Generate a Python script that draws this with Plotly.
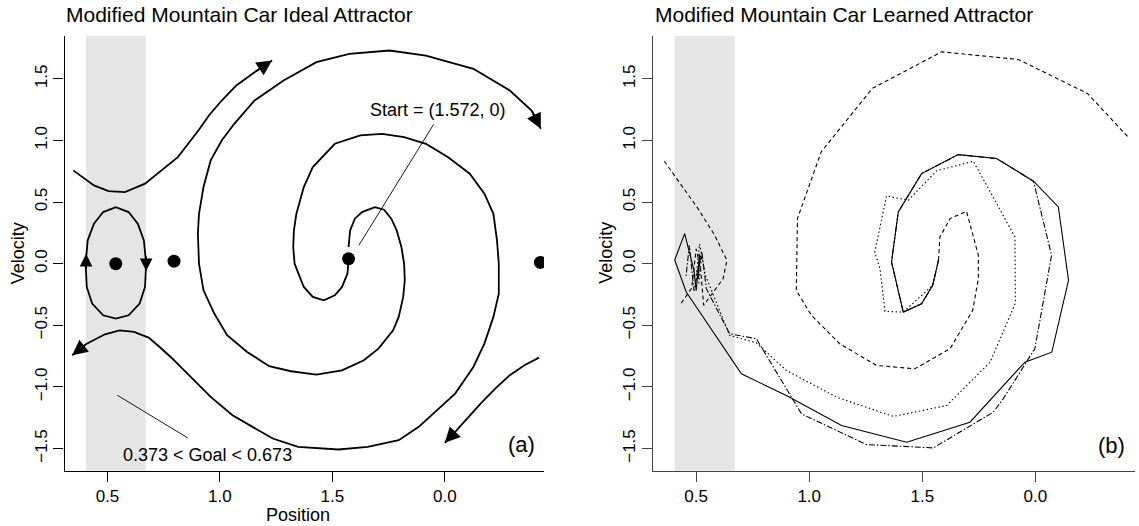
import plotly.graph_objects as go

# ---------------- data (position u, velocity v) ----------------
x_tick_vals = [0.5, 1.0, 1.5, 2.0]
x_tick_text = ["0.5", "1.0", "1.5", "0.0"]
y_tick_vals = [-1.5, -1.0, -0.5, 0.0, 0.5, 1.0, 1.5]
y_tick_text = ["\u22121.5", "\u22121.0", "\u22120.5", "0.0", "0.5", "1.0", "1.5"]
x_range = [0.309, 2.441]
y_range = [-1.68, 1.85]
goal_band = [0.405, 0.670]

# Panel (a): ideal attractor
orbit_u = [0.403, 0.412, 0.440, 0.481, 0.537, 0.594, 0.635, 0.662, 0.672, 0.667, 0.643,
           0.594, 0.537, 0.481, 0.432, 0.408, 0.403]
orbit_v = [0.0, 0.189, 0.324, 0.419, 0.459, 0.419, 0.324, 0.189, 0.0, -0.189, -0.324,
           -0.419, -0.446, -0.419, -0.324, -0.189, 0.0]

upper_u = [0.348, 0.440, 0.505, 0.578, 0.667, 0.748, 0.813, 0.870, 0.910, 0.951, 1.008,
           1.073, 1.154, 1.232]
upper_v = [0.757, 0.635, 0.589, 0.581, 0.649, 0.770, 0.865, 1.0, 1.095, 1.203, 1.324,
           1.446, 1.554, 1.649]

branch_up_u = [1.572, 1.579, 1.600, 1.632, 1.689, 1.730, 1.762, 1.786, 1.807, 1.819, 1.822,
               1.815, 1.795, 1.770, 1.705, 1.640, 1.543, 1.429, 1.316, 1.219, 1.121, 1.032,
               0.975, 0.927, 0.907, 0.902, 0.907, 0.927, 0.959, 1.008, 1.064, 1.154, 1.283,
               1.429, 1.575, 1.754, 1.916, 2.127, 2.289, 2.386, 2.427]
branch_up_v = [0.135, 0.270, 0.365, 0.419, 0.459, 0.438, 0.365, 0.270, 0.135, 0.0, -0.135,
               -0.270, -0.432, -0.541, -0.689, -0.784, -0.865, -0.900, -0.873, -0.832, -0.716,
               -0.581, -0.405, -0.216, 0.0, 0.243, 0.405, 0.622, 0.838, 1.0, 1.135, 1.324,
               1.486, 1.635, 1.703, 1.730, 1.689, 1.581, 1.405, 1.243, 1.095]

branch_down_u = [1.572, 1.567, 1.543, 1.511, 1.462, 1.413, 1.373, 1.348, 1.332, 1.326, 1.329,
                 1.340, 1.373, 1.413, 1.511, 1.624, 1.721, 1.819, 1.916, 2.013, 2.111, 2.176,
                 2.216, 2.232, 2.240, 2.240, 2.216, 2.176, 2.127, 2.046, 1.965, 1.884, 1.795,
                 1.657, 1.527, 1.348, 1.235, 1.056, 0.959, 0.878, 0.781, 0.732, 0.683, 0.618,
                 0.554, 0.489, 0.408, 0.343]
branch_down_v = [0.014, -0.081, -0.189, -0.257, -0.297, -0.270, -0.189, -0.081, 0.0, 0.135,
                 0.270, 0.405, 0.622, 0.784, 0.973, 1.041, 1.054, 1.027, 0.973, 0.865, 0.730,
                 0.568, 0.405, 0.189, 0.0, -0.243, -0.432, -0.649, -0.838, -1.054, -1.189,
                 -1.324, -1.432, -1.486, -1.508, -1.486, -1.419, -1.230, -1.081, -0.932,
                 -0.757, -0.676, -0.600, -0.554, -0.541, -0.573, -0.649, -0.743]

lower_right_u = [2.419, 2.354, 2.289, 2.224, 2.159, 2.094, 2.046, 2.000]
lower_right_v = [-0.762, -0.824, -0.905, -1.014, -1.135, -1.270, -1.365, -1.454]

fixed_u = [0.537, 0.796, 1.572, 2.425]
fixed_v = [0.0, 0.02, 0.04, 0.01]

# arrow heads: tip (u, v) and a point just behind it on the curve
arrow_tip_u = [1.232, 2.427, 0.343, 2.000]
arrow_tip_v = [1.649, 1.095, -0.743, -1.454]
arrow_tail_u = [1.154, 2.386, 0.408, 2.046]
arrow_tail_v = [1.554, 1.243, -0.649, -1.365]
orbit_arrow_tip_u = [0.405, 0.672]
orbit_arrow_tip_v = [0.08, -0.06]
orbit_arrow_tail_u = [0.405, 0.672]
orbit_arrow_tail_v = [-0.05, 0.07]

start_line_u = [1.618, 1.950]
start_line_v = [0.149, 1.130]
goal_line_u = [0.544, 0.857]
goal_line_v = [-1.068, -1.414]

# Panel (b): learned trajectories
dash_u = [1.572, 1.578, 1.623, 1.696, 1.748, 1.748, 1.723, 1.623, 1.467, 1.298, 1.135, 1.010,
          0.943, 0.948, 1.053, 1.279, 1.586, 1.925, 2.231, 2.417, None,
          0.359, 0.508, 0.582, 0.636, 0.619, 0.567, 0.533, 0.52, 0.50, 0.48, 0.43]
dash_v = [0.03, 0.217, 0.366, 0.425, 0.068, -0.122, -0.379, -0.690, -0.853, -0.826, -0.650,
          -0.420, -0.217, 0.366, 0.907, 1.422, 1.719, 1.657, 1.381, 1.015, None,
          0.831, 0.447, 0.230, 0.027, -0.122, -0.257, -0.338, -0.05, 0.12, -0.2, -0.33]

solid_u = [1.572, 1.546, 1.497, 1.416, 1.364, 1.394, 1.497, 1.659, 1.829, 1.992, 2.102, 2.147,
           2.073, 1.954, 1.711, 1.431, 1.143, 0.899, 0.700, 0.456, 0.405, 0.449, 0.49, 0.50,
           0.515, 0.51]
solid_v = [0.03, -0.176, -0.325, -0.393, 0.014, 0.420, 0.731, 0.885, 0.853, 0.669, 0.460,
           -0.135, -0.718, -0.799, -1.286, -1.449, -1.313, -1.070, -0.894, -0.23, 0.03, 0.244,
           -0.05, -0.22, 0.08, -0.12]

dashdot_u = [1.572, 1.546, 1.497, 1.416, 1.364, 1.394, 1.497, 1.659, 1.829, 1.992, 2.072, 1.998,
             1.858, 1.814, 1.549, 1.253, 0.966, 0.766, 0.648, 0.545, 0.525, 0.49, 0.47, 0.455]
dashdot_v = [0.03, -0.176, -0.325, -0.393, 0.014, 0.420, 0.731, 0.885, 0.853, 0.669, 0.068,
             -0.690, -1.097, -1.205, -1.495, -1.468, -1.219, -0.609, -0.569, -0.203, 0.10,
             -0.22, 0.15, -0.10]

dot_u = [1.572, 1.546, 1.416, 1.335, 1.313, 1.290, 1.342, 1.438, 1.563, 1.726, 1.910, 1.912,
         1.800, 1.608, 1.372, 1.121, 0.899, 0.766, 0.648, 0.54, 0.515, 0.50, 0.525, 0.51]
dot_v = [0.03, -0.176, -0.393, -0.387, -0.041, 0.095, 0.550, 0.514, 0.753, 0.831, 0.217,
         -0.32, -0.80, -1.151, -1.240, -1.083, -0.867, -0.642, -0.582, -0.09, 0.16, -0.10,
         0.06, -0.18]

# ---------------- figure ----------------
W, H = 1139, 526
FONT = "Liberation Sans, Arial, Helvetica, sans-serif"
left_dom = [64.5 / W, 544 / W]
right_dom = [653 / W, 1135 / W]
y_dom = [1 - 470.7 / H, 1 - 35.7 / H]

fig = go.Figure()

curve = dict(color="black", width=1.8)
for uu, vv in [(orbit_u, orbit_v), (upper_u, upper_v), (branch_up_u, branch_up_v),
               (branch_down_u, branch_down_v), (lower_right_u, lower_right_v)]:
    fig.add_trace(go.Scatter(x=uu, y=vv, mode="lines", line=curve, xaxis="x", yaxis="y",
                             showlegend=False, hoverinfo="skip"))
for uu, vv in [(start_line_u, start_line_v), (goal_line_u, goal_line_v)]:
    fig.add_trace(go.Scatter(x=uu, y=vv, mode="lines", line=dict(color="black", width=0.9),
                             xaxis="x", yaxis="y", showlegend=False, hoverinfo="skip"))
fig.add_trace(go.Scatter(x=fixed_u, y=fixed_v, mode="markers",
                         marker=dict(color="black", size=13), xaxis="x", yaxis="y",
                         showlegend=False, hoverinfo="skip"))

thin = 1.1
for uu, vv, dash in [(dash_u, dash_v, "4px,3px"), (solid_u, solid_v, "solid"),
                     (dashdot_u, dashdot_v, "6px,2px,1.5px,2px"), (dot_u, dot_v, "1.5px,2.5px")]:
    fig.add_trace(go.Scatter(x=uu, y=vv, mode="lines",
                             line=dict(color="black", width=thin, dash=dash),
                             xaxis="x2", yaxis="y2", showlegend=False, hoverinfo="skip",
                             connectgaps=False))

# goal band shading
for xr, yr in [("x", "y domain"), ("x2", "y2 domain")]:
    fig.add_shape(type="rect", xref=xr, yref=yr, x0=goal_band[0], x1=goal_band[1], y0=0, y1=1,
                  fillcolor="#e5e5e5", line=dict(width=0), layer="below")

annotations = []
for tu, tv, au, av in zip(arrow_tip_u, arrow_tip_v, arrow_tail_u, arrow_tail_v):
    annotations.append(dict(x=tu, y=tv, ax=au, ay=av, xref="x", yref="y", axref="x",
                            ayref="y", text="", showarrow=True, arrowhead=2, arrowsize=1.7,
                            arrowwidth=1.8, arrowcolor="black", standoff=0, startstandoff=0))
for tu, tv, au, av in zip(orbit_arrow_tip_u, orbit_arrow_tip_v, orbit_arrow_tail_u,
                          orbit_arrow_tail_v):
    annotations.append(dict(x=tu, y=tv, ax=au, ay=av, xref="x", yref="y", axref="x",
                            ayref="y", text="", showarrow=True, arrowhead=2, arrowsize=1.4,
                            arrowwidth=1.8, arrowcolor="black", standoff=0, startstandoff=0))

txt = dict(family=FONT, size=18, color="black")
annotations += [
    dict(x=1.971, y=1.243, xref="x", yref="y", text="Start = (1.572, 0)", showarrow=False,
         font=txt, xanchor="center", yanchor="middle"),
    dict(x=0.946, y=-1.555, xref="x", yref="y", text="0.373 < Goal < 0.673", showarrow=False,
         font=txt, xanchor="center", yanchor="middle"),
    dict(x=2.343, y=-1.468, xref="x", yref="y", text="(a)", showarrow=False,
         font=dict(family=FONT, size=22, color="black"), xanchor="center", yanchor="middle"),
    dict(x=2.335, y=-1.476, xref="x2", yref="y2", text="(b)", showarrow=False,
         font=dict(family=FONT, size=22, color="black"), xanchor="center", yanchor="middle"),
    dict(x=64 / W, y=1 - 15 / H, xref="paper", yref="paper",
         text="Modified Mountain Car Ideal Attractor", showarrow=False,
         font=dict(family=FONT, size=21, color="black"), xanchor="left", yanchor="middle"),
    dict(x=653 / W, y=1 - 15 / H, xref="paper", yref="paper",
         text="Modified Mountain Car Learned Attractor", showarrow=False,
         font=dict(family=FONT, size=21, color="black"), xanchor="left", yanchor="middle"),
    dict(x=18 / W, y=1 - 253.2 / H, xref="paper", yref="paper", text="Velocity",
         showarrow=False, textangle=-90, font=txt, xanchor="center", yanchor="middle"),
    dict(x=606.5 / W, y=1 - 253.2 / H, xref="paper", yref="paper", text="Velocity",
         showarrow=False, textangle=-90, font=txt, xanchor="center", yanchor="middle"),
    dict(x=298 / W, y=1 - 515 / H, xref="paper", yref="paper", text="Position",
         showarrow=False, font=txt, xanchor="center", yanchor="middle"),
]

def xaxis(dom, anchor, lc):
    return dict(domain=dom, range=x_range, anchor=anchor, showgrid=False, zeroline=False,
                showline=True, linecolor=lc, linewidth=1.2, ticks="outside", ticklen=10,
                tickwidth=1, tickcolor=lc, tickvals=x_tick_vals, ticktext=x_tick_text,
                tickfont=dict(family=FONT, size=17, color="black"), fixedrange=True)

def yaxis(anchor, lc):
    return dict(domain=y_dom, range=y_range, anchor=anchor, showgrid=False, zeroline=False,
                showline=True, linecolor=lc, linewidth=1.2, ticks="outside", ticklen=10,
                tickwidth=1, tickcolor=lc, tickvals=y_tick_vals, ticktext=y_tick_text,
                tickangle=-90, tickfont=dict(family=FONT, size=17, color="black"),
                fixedrange=True)

fig.update_layout(
    width=W, height=H, margin=dict(l=0, r=0, t=0, b=0),
    paper_bgcolor="white", plot_bgcolor="white",
    xaxis=xaxis(left_dom, "y", "black"), yaxis=yaxis("x", "black"),
    xaxis2=xaxis(right_dom, "y2", "#444"), yaxis2=yaxis("x2", "#444"),
    annotations=annotations, showlegend=False,
)

fig.write_html("out.html")
